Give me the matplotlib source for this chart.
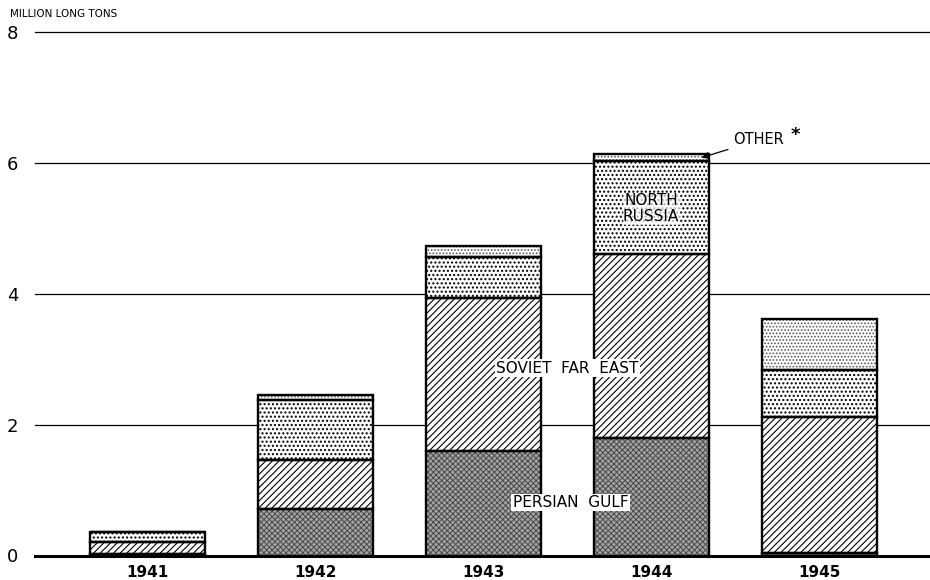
import matplotlib
matplotlib.use("Agg")
import matplotlib.pyplot as plt
import numpy as np

years = ["1941", "1942", "1943", "1944", "1945"]
persian_gulf = [0.02, 0.71, 1.60, 1.79, 0.04]
soviet_far_east = [0.19, 0.75, 2.34, 2.81, 2.07]
north_russia = [0.15, 0.92, 0.62, 1.43, 0.72]
other = [0.00, 0.07, 0.17, 0.10, 0.79]
yticks = [0, 2, 4, 6, 8]

plt.rcParams['font.family'] = ['DejaVu Sans']
plt.rcParams['hatch.linewidth'] = 0.8

fig = plt.figure(figsize=(9.3, 5.8), dpi=100)
ax = fig.add_axes([35/930, 1 - 555.5/580, 1 - 35/930, (555.5 - 32)/580])

x = np.arange(len(years))
w = 0.685

series = [
    (persian_gulf, '#a4a4a4', '#4a4a4a', 'xxxxxx', 0.7),
    (soviet_far_east, 'white', 'black', '/////', 0.8),
    (north_russia, 'white', 'black', '....', 1.0),
    (other, 'white', '#555555', '.....', 0.8),
]

bottom = np.zeros(len(years))
for vals, fc, hc, hatch, hl in series:
    v = np.array(vals)
    plt.rcParams['hatch.linewidth'] = hl
    ax.bar(x, v, w, bottom=bottom, color=fc, edgecolor=hc, hatch=hatch,
           linewidth=0, zorder=3)
    ax.bar(x, v, w, bottom=bottom, fill=False, edgecolor='black',
           linewidth=1.7, zorder=4)
    bottom = bottom + v

ax.set_xlim(-0.667, 4.66)
ax.set_ylim(0, 8)
for t in yticks[1:]:
    ax.axhline(t, color='black', linewidth=0.9, zorder=1, clip_on=False)
ax.axhline(0, color='black', linewidth=2.2, zorder=5, clip_on=False)

for s in ax.spines.values():
    s.set_visible(False)
ax.set_yticks(yticks)
ax.set_yticklabels([str(t) for t in yticks], fontsize=13)
ax.tick_params(axis='y', length=0, pad=12)
ax.set_xticks(x)
ax.set_xticklabels(years, fontsize=11)
ax.tick_params(axis='x', length=0, pad=7)
for lbl in ax.get_xticklabels():
    lbl.set_fontweight('semibold')

fig.text(10/930, 1 - 14/580, "MILLION LONG TONS", fontsize=7.5,
         va='center', ha='left')

box = dict(facecolor='white', edgecolor='none', pad=1.0)
ax.text(2.5, 2.86, "SOVIET  FAR  EAST", ha='center', va='center',
        fontsize=11, bbox=box, zorder=6)
ax.text(2.52, 0.81, "PERSIAN  GULF", ha='center', va='center',
        fontsize=11, bbox=box, zorder=6)
ax.text(3.0, 5.3, "NORTH\nRUSSIA", ha='center', va='center',
        fontsize=11, linespacing=1.1,
        bbox=dict(facecolor='white', edgecolor='none', pad=0.3, alpha=0.7),
        zorder=6)
ax.annotate("OTHER", xy=(3.3, 6.08), xytext=(3.49, 6.35),
            fontsize=10.5, ha='left', va='center',
            arrowprops=dict(arrowstyle='-|>', color='black', lw=0.9,
                            shrinkA=2, shrinkB=0),
            zorder=6, annotation_clip=False)
ax.text(3.83, 6.43, "*", fontsize=13, fontweight='bold', ha='left',
        va='center', zorder=6)

fig.savefig("out.png", dpi=100)
